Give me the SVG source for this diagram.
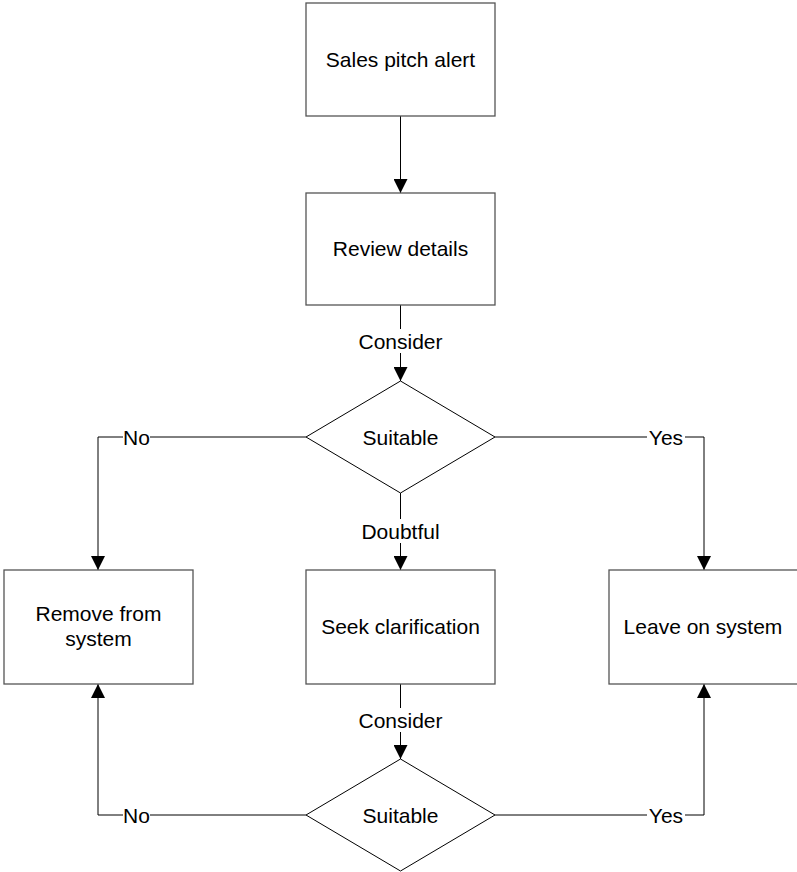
<svg xmlns="http://www.w3.org/2000/svg" width="797" height="872" viewBox="0 0 797 872">
<style>
.box{fill:#fff;stroke:#555;stroke-width:1.3}
.dia{fill:#fff;stroke:#000;stroke-width:1}
.t{font-family:"Liberation Sans",Arial,sans-serif;font-size:21px;fill:#000;text-anchor:middle;dominant-baseline:central}
.c{fill:none;stroke:#000;stroke-width:1}
.lb{fill:#fff}
</style>
<defs>
<marker id="ah" markerWidth="14" markerHeight="14" refX="14" refY="7" orient="auto" markerUnits="userSpaceOnUse">
<path d="M0,0 L14,7 L0,14 Z" fill="#000"/>
</marker>
</defs>
<rect width="797" height="872" fill="#fff"/>
<g id="connectors">
<path class="c" d="M400.5,116 V193" marker-end="url(#ah)"/>
<path class="c" d="M400.5,305 V381" marker-end="url(#ah)"/>
<path class="c" d="M306,437 H98 V570" marker-end="url(#ah)"/>
<path class="c" d="M495,437 H704 V570" marker-end="url(#ah)"/>
<path class="c" d="M400.5,493 V570" marker-end="url(#ah)"/>
<path class="c" d="M400.5,684 V759" marker-end="url(#ah)"/>
<path class="c" d="M306,815 H98 V684" marker-end="url(#ah)"/>
<path class="c" d="M495,815 H704 V684" marker-end="url(#ah)"/>
<rect class="lb" x="358" y="329" width="86" height="24"/>
<text class="t" x="400.5" y="341">Consider</text>
<rect class="lb" x="359" y="519" width="84" height="24"/>
<text class="t" x="400.5" y="531">Doubtful</text>
<rect class="lb" x="123" y="425" width="27" height="24"/>
<text class="t" x="136.5" y="437">No</text>
<rect class="lb" x="647" y="425" width="38" height="24"/>
<text class="t" x="666" y="437">Yes</text>
<rect class="lb" x="358" y="708" width="86" height="24"/>
<text class="t" x="400.5" y="720">Consider</text>
<rect class="lb" x="123" y="803" width="27" height="24"/>
<text class="t" x="136.5" y="815">No</text>
<rect class="lb" x="647" y="803" width="38" height="24"/>
<text class="t" x="666" y="815">Yes</text>
</g>
<g id="n1"><rect class="box" x="306" y="3" width="189" height="113"/><text class="t" x="400.5" y="59">Sales pitch alert</text></g>
<g id="n2"><rect class="box" x="306" y="193" width="189" height="112"/><text class="t" x="400.5" y="248">Review details</text></g>
<g id="d1"><path class="dia" d="M400.5,381 L495,437 L400.5,493 L306,437 Z"/><text class="t" x="400.5" y="437">Suitable</text></g>
<g id="n3"><rect class="box" x="4" y="570" width="189" height="114"/><text class="t" x="98.5" y="613">Remove from</text><text class="t" x="98.5" y="638">system</text></g>
<g id="n4"><rect class="box" x="306" y="570" width="189" height="114"/><text class="t" x="400.5" y="626">Seek clarification</text></g>
<g id="n5"><rect class="box" x="609" y="570" width="192" height="114"/><text class="t" x="703" y="626">Leave on system</text></g>
<g id="d2"><path class="dia" d="M400.5,759 L495,815 L400.5,871 L306,815 Z"/><text class="t" x="400.5" y="815">Suitable</text></g>
</svg>
